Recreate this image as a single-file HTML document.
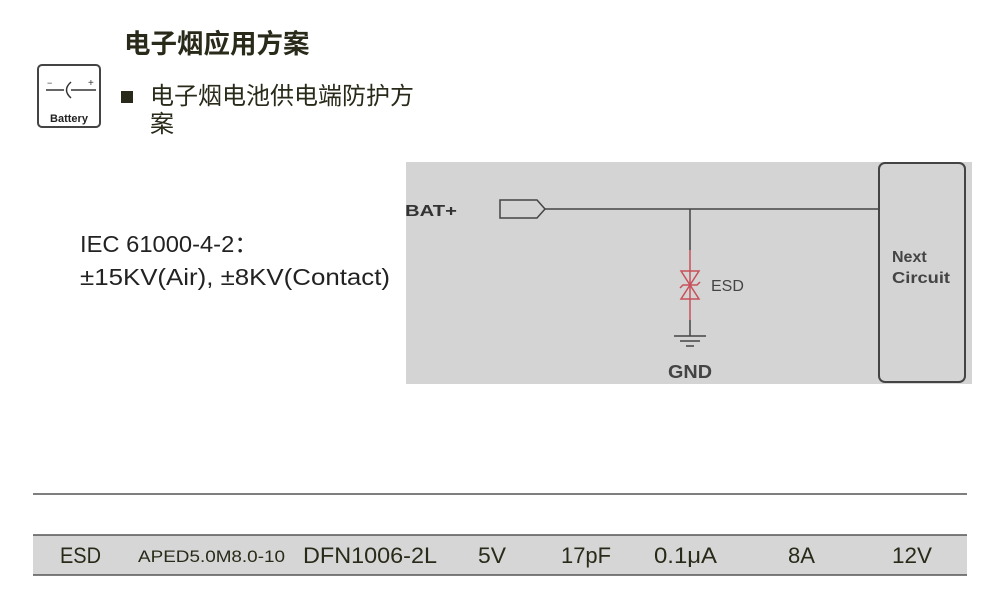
<!DOCTYPE html>
<html><head><meta charset="utf-8"><style>
body{margin:0;width:1000px;height:600px;background:#fff;position:relative;overflow:hidden;font-family:"Liberation Sans","Noto Sans CJK SC",sans-serif;}
.a{position:absolute;white-space:nowrap;}
</style></head><body>
<div class="a" style="left:124px;top:22px;font-size:26.5px;font-weight:bold;color:#2a2a1a;">电子烟应用方案</div>
<div class="a" style="left:37px;top:64px;width:64px;height:64px;border:2px solid #444;border-radius:5px;box-sizing:border-box;"></div>
<svg class="a" style="left:37px;top:64px" width="66" height="66">
<line x1="9" y1="26" x2="27" y2="26" stroke="#333" stroke-width="1.5"/>
<path d="M34 18 Q25 26 34 34" fill="none" stroke="#333" stroke-width="1.5"/>
<line x1="34" y1="26" x2="59" y2="26" stroke="#333" stroke-width="1.5"/>
<text x="10" y="22" font-size="9" fill="#333">−</text><text x="51" y="22" font-size="10" fill="#333">+</text>
<text x="32" y="58" font-size="11" font-weight="bold" text-anchor="middle" fill="#222">Battery</text>
</svg>
<div class="a" style="left:121px;top:91px;width:12px;height:12px;background:#2a2a1a;"></div>
<div class="a" style="left:150px;top:83px;font-size:24px;line-height:28px;color:#2a2a1a;">电子烟电池供电端防护方<br>案</div>
<svg class="a" style="left:0;top:0" width="1000" height="600">
<text x="80" y="252" font-size="23" fill="#222" textLength="178" lengthAdjust="spacingAndGlyphs">IEC 61000-4-2：</text>
<text x="80" y="285" font-size="23" fill="#222" textLength="310" lengthAdjust="spacingAndGlyphs">±15KV(Air), ±8KV(Contact)</text>
<rect x="406" y="162" width="566" height="222" fill="#d4d4d4"/>
<rect x="879" y="163" width="86" height="219" rx="6" fill="#d4d4d4" stroke="#444" stroke-width="2"/>
<text x="405" y="216" font-size="16" font-weight="bold" fill="#333" textLength="52" lengthAdjust="spacingAndGlyphs">BAT+</text>
<path d="M500 200 H537 L545 209 L537 218 H500 Z" fill="none" stroke="#444" stroke-width="1.5"/>
<line x1="545" y1="209" x2="879" y2="209" stroke="#444" stroke-width="1.5"/>
<line x1="690" y1="209" x2="690" y2="250" stroke="#444" stroke-width="1.5"/>
<line x1="690" y1="250" x2="690" y2="320" stroke="#c8505a" stroke-width="1.5"/>
<line x1="690" y1="320" x2="690" y2="336" stroke="#444" stroke-width="1.5"/>
<path d="M681 271 H699 L690 285 Z M681 299 H699 L690 285 Z" fill="none" stroke="#c8505a" stroke-width="1.5"/>
<path d="M680 288 L683 285 H697 L700 282" fill="none" stroke="#c8505a" stroke-width="1.5"/>
<line x1="674" y1="336" x2="706" y2="336" stroke="#444" stroke-width="1.5"/>
<line x1="680" y1="341" x2="700" y2="341" stroke="#444" stroke-width="1.5"/>
<line x1="686" y1="346" x2="694" y2="346" stroke="#444" stroke-width="1.5"/>
<text x="711" y="291" font-size="16" fill="#444">ESD</text>
<text x="668" y="378" font-size="18" font-weight="bold" fill="#444" textLength="44" lengthAdjust="spacingAndGlyphs">GND</text>
<text x="892" y="262" font-size="16" font-weight="bold" fill="#444">Next</text>
<text x="892" y="283" font-size="16" font-weight="bold" fill="#444" textLength="58" lengthAdjust="spacingAndGlyphs">Circuit</text>
<line x1="33" y1="494" x2="967" y2="494" stroke="#555" stroke-width="1.5"/>
<rect x="33" y="535" width="934" height="40" fill="#d6d6d6"/>
<line x1="33" y1="535" x2="967" y2="535" stroke="#555" stroke-width="1.5"/>
<line x1="33" y1="575" x2="967" y2="575" stroke="#555" stroke-width="1.5"/>
<g font-size="22" fill="#2a2a1a" lengthAdjust="spacingAndGlyphs">
<text x="60" y="563" textLength="41" lengthAdjust="spacingAndGlyphs">ESD</text>
<text x="138" y="562" font-size="17" textLength="147" lengthAdjust="spacingAndGlyphs">APED5.0M8.0-10</text>
<text x="303" y="563" textLength="134" lengthAdjust="spacingAndGlyphs">DFN1006-2L</text>
<text x="478" y="563" textLength="28" lengthAdjust="spacingAndGlyphs">5V</text>
<text x="561" y="563" textLength="50" lengthAdjust="spacingAndGlyphs">17pF</text>
<text x="654" y="563" textLength="63" lengthAdjust="spacingAndGlyphs">0.1μA</text>
<text x="788" y="563" textLength="27" lengthAdjust="spacingAndGlyphs">8A</text>
<text x="892" y="563" textLength="40" lengthAdjust="spacingAndGlyphs">12V</text>
</g>
</svg>
</body></html>
